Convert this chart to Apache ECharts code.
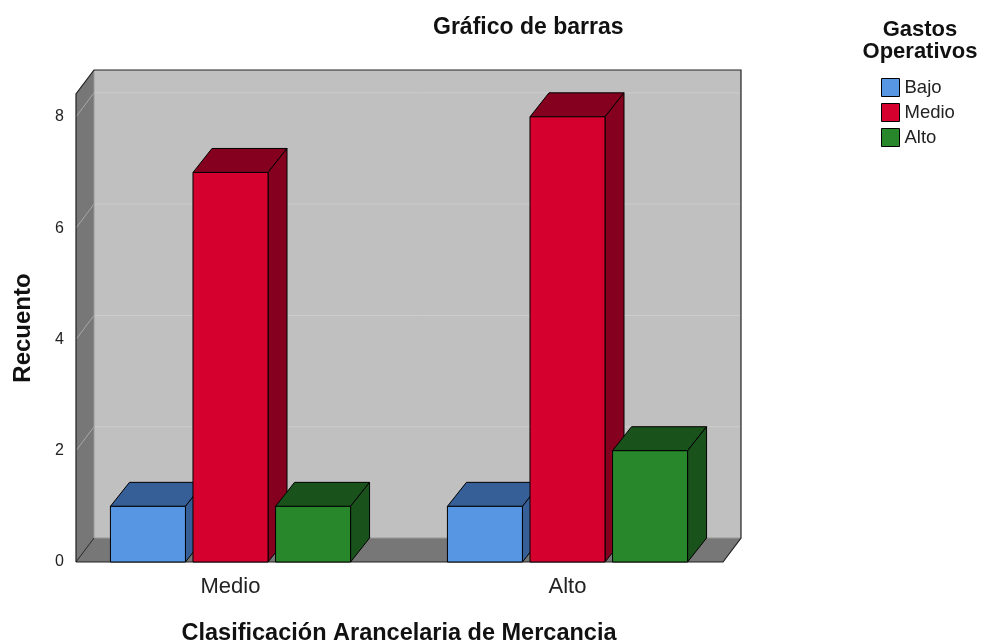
<!DOCTYPE html>
<html>
<head>
<meta charset="utf-8">
<script src="https://cdn.jsdelivr.net/npm/echarts@6/dist/echarts.min.js"></script>
<style>
  html, body { margin: 0; padding: 0; background: #fff; }
  #chart { width: 985px; height: 642px; }
</style>
</head>
<body>
<div id="chart"></div>
<script>
// datos
var categorias = ['Medio', 'Alto'];
var bajo = [1, 1];
var medio = [7, 8];
var alto = [1, 2];
var yTicks = [0, 2, 4, 6, 8];

var FONT = 'Liberation Sans, Arial, sans-serif';
var DX = 18, DY = 24;       // profundidad de las paredes
var BDX = 19, BDY = 24;     // profundidad de las barras

var colores = [
  {front: '#5696e2', dark: '#365f98'},
  {front: '#d6002f', dark: '#84001e'},
  {front: '#29872b', dark: '#1a521c'}
];

function toPairs(arr) {
  return arr.map(function (v, i) { return [i, v]; });
}

function barItem(k) {
  var c = colores[k];
  return function (params, api) {
    var cat = api.value(0), val = api.value(1);
    var band = api.size([1, 0])[0];
    var base = api.coord([cat, 0]);
    var top = api.coord([cat, val])[1];
    var w = band * 0.2226, step = band * 0.245;
    var x0 = base[0] + (k - 1) * step - w / 2, x1 = x0 + w, y0 = base[1];
    var st = {stroke: '#000', lineWidth: 1};
    return {
      type: 'group',
      children: [
        {type: 'polygon', shape: {points: [[x0, top], [x1, top], [x1 + BDX, top - BDY], [x0 + BDX, top - BDY]]},
          style: Object.assign({fill: c.dark}, st)},
        {type: 'polygon', shape: {points: [[x1, top], [x1 + BDX, top - BDY], [x1 + BDX, y0 - BDY], [x1, y0]]},
          style: Object.assign({fill: c.dark}, st)},
        {type: 'rect', shape: {x: x0, y: top, width: w, height: y0 - top},
          style: Object.assign({fill: c.front}, st)}
      ]
    };
  };
}

function wallItem(params, api) {
  var cs = params.coordSys;
  var L = cs.x + 14, R = cs.x + cs.width - 13, T = cs.y, B = cs.y + cs.height;
  var kids = [
    {type: 'rect', shape: {x: L + DX, y: T - DY, width: R - L, height: B - T}, style: {fill: '#c0c0c0'}},
    {type: 'polygon', shape: {points: [[L, T], [L + DX, T - DY], [L + DX, B - DY], [L, B]]}, style: {fill: '#777777'}},
    {type: 'polygon', shape: {points: [[L, B], [L + DX, B - DY], [R + DX, B - DY], [R, B]]}, style: {fill: '#777777'}}
  ];
  yTicks.forEach(function (v) {
    if (v === 0) return;
    var y = api.coord([0, v])[1];
    kids.push({type: 'line', shape: {x1: L + DX, y1: y - DY, x2: R + DX, y2: y - DY}, style: {stroke: '#cdcdcd', lineWidth: 1}});
    kids.push({type: 'line', shape: {x1: L, y1: y, x2: L + DX, y2: y - DY}, style: {stroke: '#a8a8a8', lineWidth: 1}});
  });
  kids.push({type: 'line', shape: {x1: L + DX, y1: T - DY, x2: L + DX, y2: B - DY}, style: {stroke: '#999', lineWidth: 1}});
  kids.push({type: 'line', shape: {x1: L + DX, y1: B - DY, x2: R + DX, y2: B - DY}, style: {stroke: '#999', lineWidth: 1}});
  kids.push({type: 'polyline', shape: {points: [[L, B], [L, T], [L + DX, T - DY], [R + DX, T - DY], [R + DX, B - DY], [R, B], [L, B]]},
    style: {stroke: '#222', lineWidth: 1.2, fill: null}});
  kids.push({type: 'line', shape: {x1: L, y1: B, x2: L + DX, y2: B - DY}, style: {stroke: '#222', lineWidth: 1}});
  return {type: 'group', children: kids};
}

var chart = echarts.init(document.getElementById('chart'));
chart.setOption({
  animation: false,
  backgroundColor: '#fff',
  title: {
    text: 'Gráfico de barras',
    left: 428, top: 11,
    textStyle: {fontFamily: FONT, fontSize: 23, fontWeight: 'bold', color: '#111'}
  },
  graphic: [{
    type: 'text', x: 920, y: 19,
    style: {text: 'Gastos\nOperativos', textAlign: 'center', font: 'bold 22px ' + FONT, lineHeight: 22, fill: '#111'}
  }],
  legend: {
    orient: 'vertical', left: 881, top: 78, padding: 0,
    itemWidth: 18, itemHeight: 18, itemGap: 6,
    icon: 'rect',
    data: ['Bajo', 'Medio', 'Alto'],
    itemStyle: {borderColor: '#000', borderWidth: 1},
    textStyle: {fontFamily: FONT, fontSize: 18.5, color: '#222'}
  },
  grid: {left: 62, right: 249, top: 94, bottom: 80, outerBoundsMode: 'none'},
  xAxis: {
    type: 'category', data: categorias,
    name: 'Clasificación Arancelaria de Mercancia', nameLocation: 'middle', nameGap: 60,
    nameTextStyle: {fontFamily: FONT, fontSize: 23.5, fontWeight: 'bold', color: '#111'},
    axisLine: {show: false}, axisTick: {show: false},
    axisLabel: {fontFamily: FONT, fontSize: 22, color: '#222', margin: 14}
  },
  yAxis: {
    type: 'value', min: 0, max: 8.41, interval: 2,
    name: 'Recuento', nameLocation: 'middle', nameGap: 27,
    nameTextStyle: {fontFamily: FONT, fontSize: 24, fontWeight: 'bold', color: '#111'},
    axisLine: {show: false}, axisTick: {show: false}, splitLine: {show: false},
    axisLabel: {fontFamily: FONT, fontSize: 16, color: '#222', margin: -2, showMaxLabel: false}
  },
  series: [
    {type: 'custom', name: 'paredes', renderItem: wallItem, data: [[0, 0]], silent: true, z: 1},
    {type: 'custom', name: 'Bajo', renderItem: barItem(0), data: toPairs(bajo), itemStyle: {color: colores[0].front}, z: 2},
    {type: 'custom', name: 'Medio', renderItem: barItem(1), data: toPairs(medio), itemStyle: {color: colores[1].front}, z: 3},
    {type: 'custom', name: 'Alto', renderItem: barItem(2), data: toPairs(alto), itemStyle: {color: colores[2].front}, z: 4}
  ]
});
</script>
</body>
</html>
